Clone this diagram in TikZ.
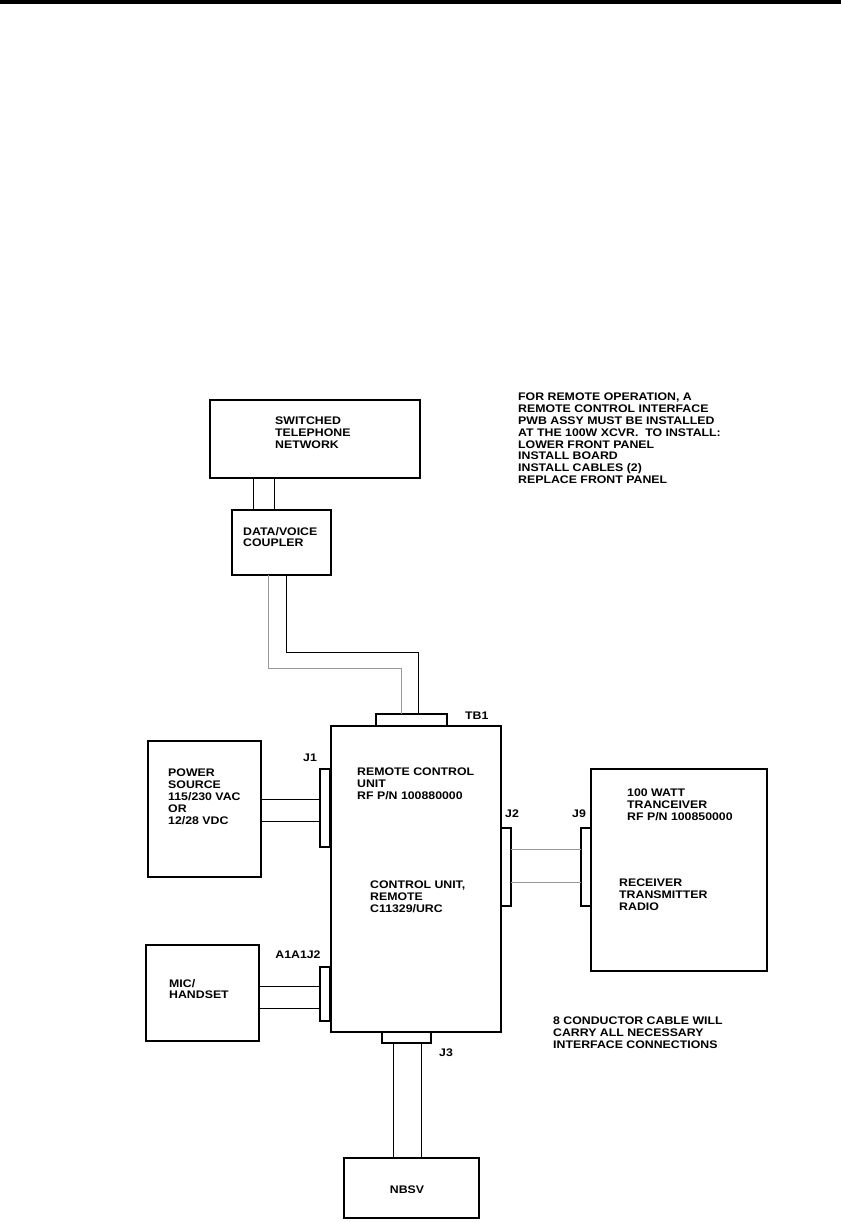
\documentclass[tikz,border=0pt]{standalone}
\usepackage{fontspec}
\setmainfont{Liberation Sans}[FakeStretch=1.12]
\begin{document}
\begin{tikzpicture}[x=1pt,y=-1pt,
  box/.style={draw,line width=2pt,inner sep=0,outer sep=0,anchor=north west},
  conn/.style={draw,line width=1.6pt,fill=white,inner sep=0,outer sep=0,anchor=north west},
  lbl/.style={font=\bfseries\fontsize{11}{11.8}\selectfont,align=left,inner sep=0,anchor=north west},
  tag/.style={font=\bfseries\fontsize{11}{11.8}\selectfont,inner sep=0},
  wire/.style={line width=0.8pt},
  gwire/.style={line width=0.8pt,color=black!40}]
\useasboundingbox (0,0) rectangle (841,1222);
\fill (0,0) rectangle (841,4);
% boxes
\node[box,minimum width=210pt,minimum height=78pt] (stn) at (210,400) {};
\node[box,minimum width=99pt,minimum height=65pt] (cpl) at (232,510) {};
\node[box,minimum width=170pt,minimum height=306pt] (main) at (331,726) {};
\node[box,minimum width=113pt,minimum height=136pt] (pwr) at (148,741) {};
\node[box,minimum width=113pt,minimum height=96pt] (mic) at (146,945) {};
\node[box,minimum width=176pt,minimum height=202pt] (xcvr) at (591,769) {};
\node[box,minimum width=135pt,minimum height=60pt] (nbsv) at (344,1158) {};
% connectors
\node[conn,minimum width=71pt,minimum height=12pt] (tb1) at (376,714) {};
\node[conn,minimum width=10pt,minimum height=78pt] (j1) at (320,769) {};
\node[conn,minimum width=10pt,minimum height=54pt] (a1j2) at (320,967) {};
\node[conn,minimum width=10pt,minimum height=78pt] (j2) at (501,828) {};
\node[conn,minimum width=10pt,minimum height=78pt] (j9) at (581,828) {};
\node[conn,minimum width=49pt,minimum height=11pt] (j3) at (382,1032) {};
% wires
\draw[wire] (stn.south -| 253,0) -- (cpl.north -| 253,0);
\draw[wire] (stn.south -| 274,0) -- (cpl.north -| 274,0);
\draw[gwire] (cpl.south -| 268,0) -- (268,668) -- (401,668) -- (tb1.north -| 401,0);
\draw[wire] (cpl.south -| 286,0) -- (286,652) -- (418,652) -- (tb1.north -| 418,0);
\draw[wire] (pwr.east |- 0,799) -- (j1.west |- 0,799);
\draw[wire] (pwr.east |- 0,821) -- (j1.west |- 0,821);
\draw[wire] (mic.east |- 0,986) -- (a1j2.west |- 0,986);
\draw[wire] (mic.east |- 0,1008) -- (a1j2.west |- 0,1008);
\draw[gwire] (j2.east |- 0,849) -- (j9.west |- 0,849);
\draw[gwire] (j2.east |- 0,882) -- (j9.west |- 0,882);
\draw[wire] (j3.south -| 393,0) -- (nbsv.north -| 393,0);
\draw[wire] (j3.south -| 421,0) -- (nbsv.north -| 421,0);
% texts
\node[lbl] (tstn) at (275,417) {SWITCHED\\TELEPHONE\\NETWORK};
\node[lbl] (tcpl) at (243,527) {DATA/VOICE\\COUPLER};
\node[lbl] (tnote) at (518,393) {FOR REMOTE OPERATION, A\\REMOTE CONTROL INTERFACE\\PWB ASSY MUST BE INSTALLED\\AT THE 100W XCVR.\ \ TO INSTALL:\\LOWER FRONT PANEL\\INSTALL BOARD\\INSTALL CABLES (2)\\REPLACE FRONT PANEL};
\node[lbl] (tmain1) at (357,768) {REMOTE CONTROL\\UNIT\\RF P/N 100880000};
\node[lbl] (tmain2) at (370,881) {CONTROL UNIT,\\REMOTE\\C11329/URC};
\node[lbl] (tpwr) at (168,769) {POWER\\SOURCE\\115/230 VAC\\OR\\12/28 VDC};
\node[lbl] (tx1) at (627,789) {100 WATT\\TRANCEIVER\\RF P/N 100850000};
\node[lbl] (tx2) at (619,879) {RECEIVER\\TRANSMITTER\\RADIO};
\node[lbl] (tmic) at (169,979) {MIC/\\HANDSET};
\node[tag] (tnbsv) at (407,1190) {NBSV};
\node[lbl] (tnote2) at (553,1017) {8 CONDUCTOR CABLE WILL\\CARRY ALL NECESSARY\\INTERFACE CONNECTIONS};
% connector tags
\node[tag,anchor=west] (ltb1) at (465,716) {TB1};
\node[tag] (lj1) at (310,758) {J1};
\node[tag] (lj2) at (512,814) {J2};
\node[tag] (lj9) at (579,814) {J9};
\node[tag] (la1) at (298,955) {A1A1J2};
\node[tag] (lj3) at (446,1053) {J3};
\end{tikzpicture}
\end{document}
